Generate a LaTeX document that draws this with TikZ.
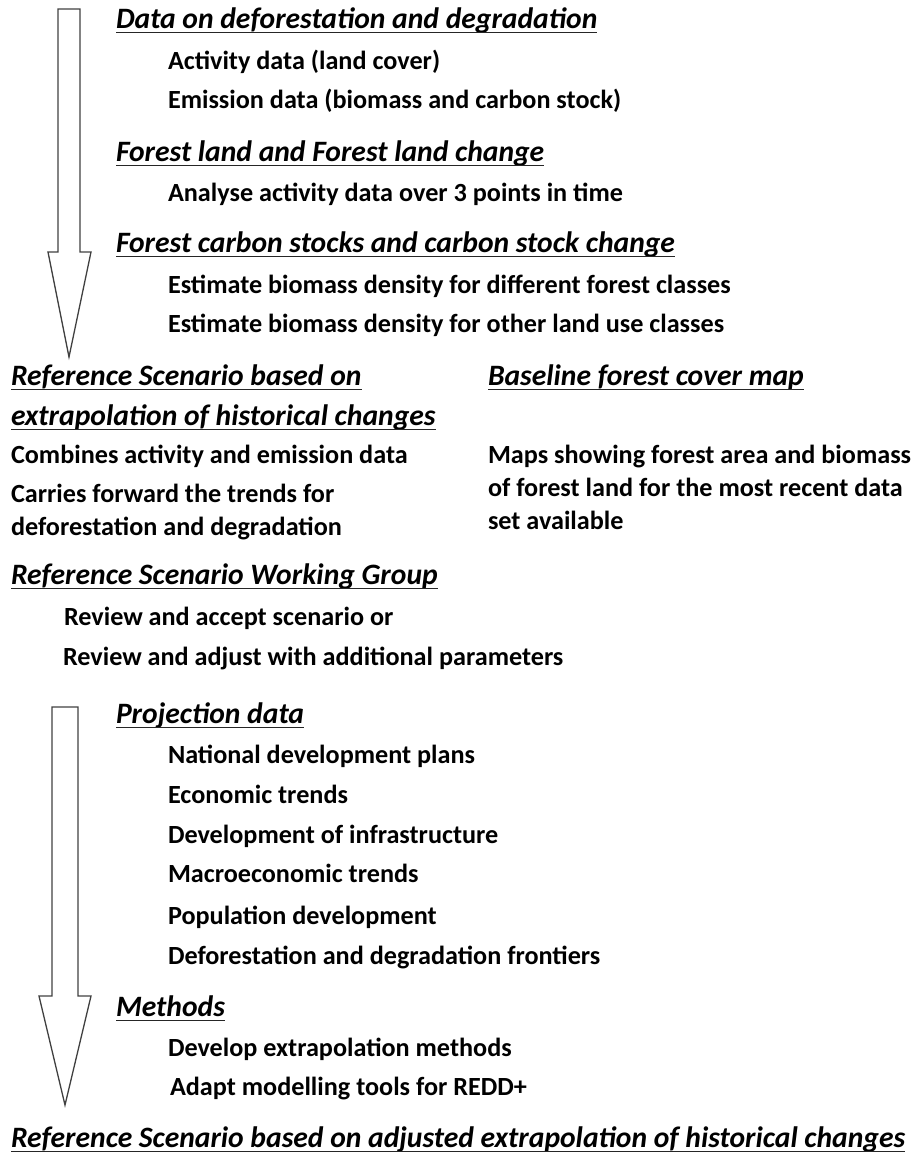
\documentclass[tikz,border=0pt]{standalone}
\usepackage{fontspec}
\setmainfont{Carlito}

\begin{document}
\begin{tikzpicture}[x=1pt,y=-1pt,
    every node/.style={anchor=base west,inner sep=0pt,outer sep=0pt,
                       font=\fontsize{26.2}{30}\selectfont\bfseries},
    head/.style={font=\fontsize{29.6}{34}\selectfont\bfseries\itshape},
    uline/.style={line width=1.5pt,black!85},
    bigarrow/.style={line width=1.3pt,black!75,line join=miter}]

\useasboundingbox (0,0) rectangle (917,1157);

% ===== Block arrows =====
\draw[bigarrow] (58,9) -- (80,9) -- (80,252) -- (91,252) -- (69,357)
                -- (48,252) -- (58,252) -- cycle;
\draw[bigarrow] (52,707) -- (78,707) -- (78,996) -- (91,996) -- (65,1105)
                -- (39,996) -- (52,996) -- cycle;

% ===== Headings =====
\node[head] (hData) at (116,28) {Data on deforestation and degradation};
\node[head] (hLand) at (116,161) {Forest land and Forest land change};
\node[head] (hStock) at (116,252) {Forest carbon stocks and carbon stock change};
\node[head] (hRef) at (11,385) {Reference Scenario based on\ };
\node[head] (hRefb) at (11,425) {extrapolation of historical changes};
\node[head] (hMap) at (488,385) {Baseline forest cover map};
\node[head] (hGroup) at (11,584) {Reference Scenario Working Group};
\node[head] (hProj) at (116,723) {Projection data\ };
\node[head] (hMeth) at (116,1016) {Methods};
\node[head] (hAdj) at (11,1147) {Reference Scenario based on adjusted extrapolation of historical changes};

% ===== Underlines =====
\foreach \h in {hData,hLand,hStock,hRef,hRefb,hMap,hGroup,hProj,hMeth,hAdj} {
    \draw[uline] ([yshift=-4.5pt]\h.base west) -- ([yshift=-4.5pt]\h.base east);
}

% ===== Items =====
\node (act) at (168,69) {Activity data (land cover)};
\node (emi) at (168,108) {Emission data (biomass and carbon stock)};

\node (ana) at (168,201) {Analyse activity data over 3 points in time};

\node (estF) at (168,293) {Estimate biomass density for different forest classes};
\node (estO) at (168,332) {Estimate biomass density for other land use classes};

\node (comb) at (11,463) {Combines activity and emission data};
\node (carr) at (11,502) {Carries forward the trends for};
\node (carrb) at (11,535) {deforestation and degradation};

\node (maps) at (488,463) {Maps showing forest area and biomass};
\node (mapsb) at (488,496) {of forest land for the most recent data};
\node (mapsc) at (488,529) {set available};

\node (acc) at (64,625) {Review and accept scenario or};
\node (adj) at (63,665) {Review and adjust with additional parameters};

\node (nat) at (168,763) {National development plans};
\node (eco) at (168,803) {Economic trends};
\node (infra) at (168,843) {Development of infrastructure};
\node (macro) at (168,882) {Macroeconomic trends};
\node (pop) at (168,924) {Population development};
\node (front) at (168,964) {Deforestation and degradation frontiers};

\node (dev) at (168,1056) {Develop extrapolation methods};
\node (tools) at (170,1095) {Adapt modelling tools for REDD+};

\end{tikzpicture}
\end{document}
